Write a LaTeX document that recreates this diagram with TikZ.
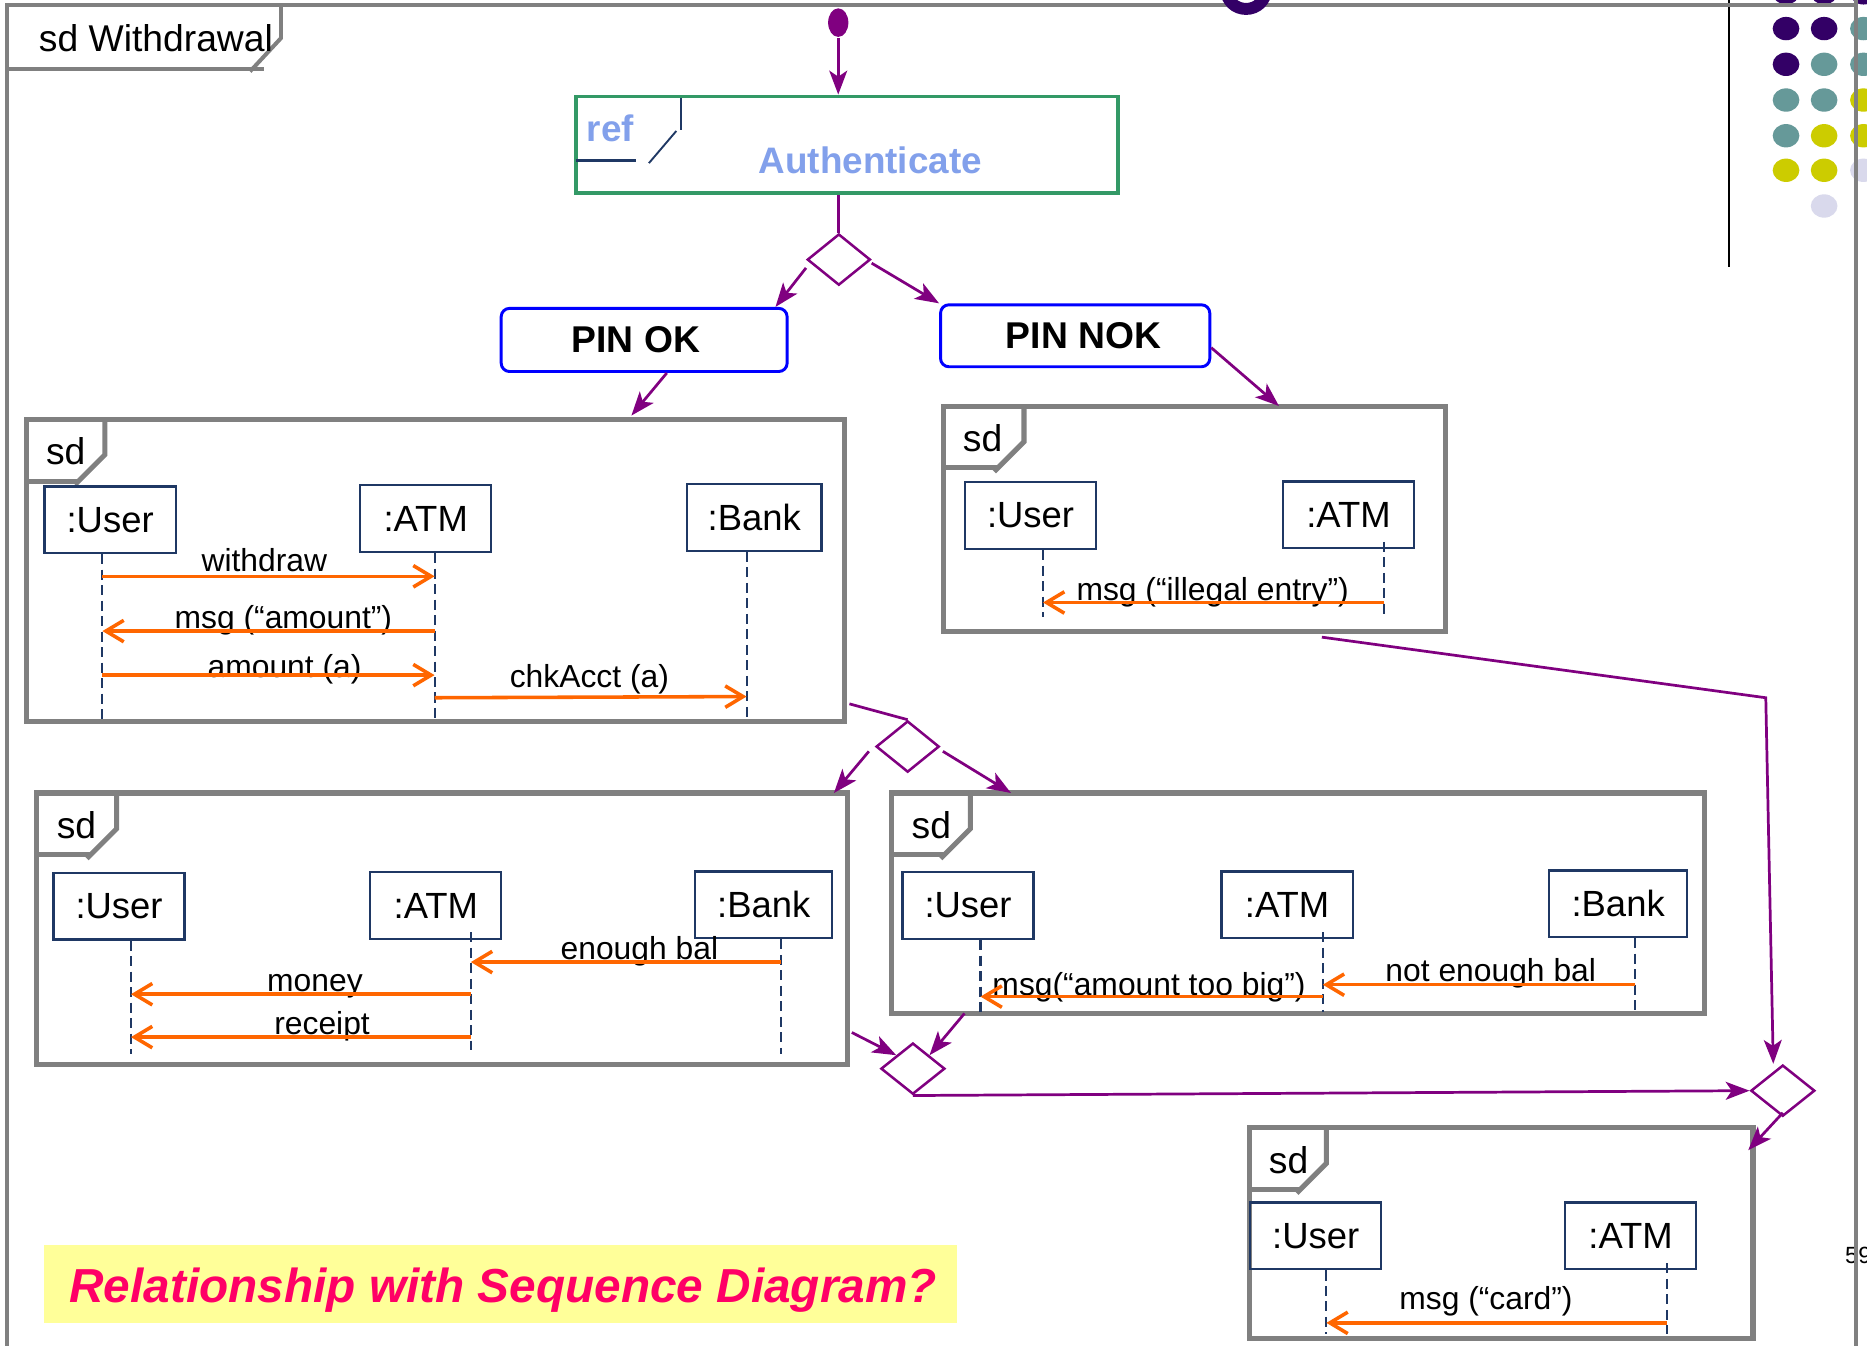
\documentclass[tikz,border=0pt]{standalone}
\usepackage{fontspec}
\setmainfont{Liberation Sans}
\usepackage{xcolor}
\usepackage{tikz}
\usetikzlibrary{shapes.geometric,arrows.meta}

\definecolor{framegray}{RGB}{128,128,128}
\definecolor{flowpurple}{RGB}{128,0,128}
\definecolor{msgorange}{RGB}{255,102,0}
\definecolor{lifenavy}{RGB}{31,56,100}
\definecolor{refgreen}{RGB}{51,153,102}
\definecolor{refblue}{RGB}{130,160,235}
\definecolor{notepink}{RGB}{255,0,102}
\definecolor{noteyellow}{RGB}{255,255,153}
\definecolor{dotP}{RGB}{51,0,102}
\definecolor{dotT}{RGB}{102,153,153}
\definecolor{dotY}{RGB}{204,204,0}
\definecolor{dotL}{RGB}{217,217,236}

% sd tab: top-left x, top-left y, tab width, label name
\newcommand{\sdtab}[4]{%
  \draw[tabline] (#1+#3,#2) -- (#1+#3,#2+30) -- (#1+#3-25,#2+55);
  \draw[tabline] (#1,#2+52) -- (#1+#3-22,#2+52);
  \node[tabtext, anchor=west] (#4) at (#1+16,#2+27) {sd};
}

\begin{document}
\begin{tikzpicture}[x=0.01cm, y=-0.01cm,
  sdframe/.style={draw=framegray, line width=1.2pt, anchor=north west, inner sep=0pt, outer sep=0pt},
  tabline/.style={framegray, line width=1.2pt},
  tabtext/.style={inner sep=0pt, font=\fontsize{8.9}{10}\selectfont},
  obj/.style={draw=lifenavy, line width=0.55pt, minimum width=1.1cm, minimum height=0.56cm, inner sep=0pt, font=\fontsize{8.7}{10}\selectfont},
  life/.style={lifenavy, line width=0.5pt, dash pattern=on 2.4pt off 1.3pt},
  msg/.style={msgorange, line width=0.85pt, -{Straight Barb[length=1.5mm, width=1.8mm]}},
  lbl/.style={inner sep=0pt, anchor=base, font=\fontsize{7.6}{9}\selectfont},
  flow/.style={flowpurple, line width=0.65pt, -{Stealth[length=2mm, width=1.5mm, inset=0.5mm]}},
  flowline/.style={flowpurple, line width=0.65pt},
  branch/.style={diamond, draw=flowpurple, line width=0.6pt, minimum width=0.53cm, minimum height=0.43cm, inner sep=0pt},
  guard/.style={draw=blue, line width=0.7pt, rounded corners=0.07cm, inner sep=0pt, font=\bfseries\fontsize{8.9}{10}\selectfont}]
  \useasboundingbox (0,0) rectangle (1568,1130);
  \clip (0,0) rectangle (1568,1130);
  \fill[white] (0,0) rectangle (1568,1130);

  % slide decoration
  \draw[black, line width=0.45pt] (1452,0) -- (1452,224);
  \fill[dotP] (1500,-6) ellipse [x radius=0.112cm, y radius=0.098cm];
  \fill[dotP] (1532,-6) ellipse [x radius=0.112cm, y radius=0.098cm];
  \fill[dotP] (1565,-6) ellipse [x radius=0.112cm, y radius=0.098cm];
  \fill[dotP] (1500,24) ellipse [x radius=0.112cm, y radius=0.098cm];
  \fill[dotP] (1532,24) ellipse [x radius=0.112cm, y radius=0.098cm];
  \fill[dotT] (1565,24) ellipse [x radius=0.112cm, y radius=0.098cm];
  \fill[dotP] (1500,54) ellipse [x radius=0.112cm, y radius=0.098cm];
  \fill[dotT] (1532,54) ellipse [x radius=0.112cm, y radius=0.098cm];
  \fill[dotT] (1565,54) ellipse [x radius=0.112cm, y radius=0.098cm];
  \fill[dotT] (1500,84) ellipse [x radius=0.112cm, y radius=0.098cm];
  \fill[dotT] (1532,84) ellipse [x radius=0.112cm, y radius=0.098cm];
  \fill[dotY] (1565,84) ellipse [x radius=0.112cm, y radius=0.098cm];
  \fill[dotT] (1500,114) ellipse [x radius=0.112cm, y radius=0.098cm];
  \fill[dotY] (1532,114) ellipse [x radius=0.112cm, y radius=0.098cm];
  \fill[dotY] (1565,114) ellipse [x radius=0.112cm, y radius=0.098cm];
  \fill[dotY] (1500,143) ellipse [x radius=0.112cm, y radius=0.098cm];
  \fill[dotY] (1532,143) ellipse [x radius=0.112cm, y radius=0.098cm];
  \fill[dotL] (1565,143) ellipse [x radius=0.112cm, y radius=0.098cm];
  \fill[dotL] (1532,173) ellipse [x radius=0.112cm, y radius=0.098cm];
  \node[anchor=base west, inner sep=0pt, font=\fontsize{5.6}{7}\selectfont] (pagenum) at (1549,1061) {59};

  % outer frame
  \draw[framegray, line width=0.95pt] (6,1140) -- (6,4) -- (1559,4);
  \draw[framegray, line width=0.95pt] (1559,-2) -- (1559,1140);
  \draw[dotP, line width=0.1cm] (1046.5,-8) ellipse [x radius=0.165cm, y radius=0.155cm];
  \draw[tabline, line width=0.95pt] (236,4) -- (236,32) -- (210,60);
  \draw[tabline, line width=0.95pt] (6,58) -- (222,58);
  \node[tabtext, anchor=west] (title) at (32,32) {sd Withdrawal};

  % start and ref
  \node[ellipse, fill=flowpurple, minimum width=0.17cm, minimum height=0.24cm, inner sep=0pt] (init) at (704,19) {};
  \node[draw=refgreen, line width=0.9pt, minimum width=4.55cm, minimum height=0.81cm, inner sep=0pt] (auth) at (711.5,121.5) {};
  \draw[lifenavy, line width=0.45pt] (572,82) -- (572,109);
  \draw[lifenavy, line width=0.45pt] (568,110) -- (545,137);
  \draw[lifenavy, line width=0.6pt] (484,135) -- (534,135);
  \node[anchor=base, inner sep=0pt, text=refblue, font=\bfseries\fontsize{8.8}{10}\selectfont] (reftag) at (512.5,119) {ref};
  \node[anchor=base, inner sep=0pt, text=refblue, font=\bfseries\fontsize{8.8}{10}\selectfont] (authname) at (731,146) {Authenticate};

  \node[branch] (d1) at (704.5,218) {};
  \node[guard, minimum width=2.4cm, minimum height=0.53cm] (pinok) at (541,285.5) {\hspace*{-0.14cm}PIN OK};
  \node[guard, minimum width=2.26cm, minimum height=0.52cm] (pinnok) at (903,282) {\hspace*{0.14cm}PIN NOK};

  % sd frames
  \node[sdframe, minimum width=6.87cm, minimum height=2.54cm] (sd1) at (22,352) {};
  \node[sdframe, minimum width=4.22cm, minimum height=1.89cm] (sd2) at (792,341) {};
  \node[sdframe, minimum width=6.80cm, minimum height=2.28cm] (sd3) at (31,666) {};
  \node[sdframe, minimum width=6.82cm, minimum height=1.85cm] (sd4) at (749,666) {};
  \node[sdframe, minimum width=4.23cm, minimum height=1.77cm] (sd5) at (1049,947) {};
  \sdtab{22}{352}{66}{sdA}
  \sdtab{792}{341}{68}{sdB}
  \sdtab{31}{666}{67}{sdC}
  \sdtab{749}{666}{66}{sdD}
  \sdtab{1049}{947}{65}{sdE}

  % sd1: PIN OK
  \node[obj] (user1) at (92.5,436.5) {:User};
  \node[obj] (atm1) at (357.5,435.5) {:ATM};
  \node[obj, minimum width=1.13cm] (bank1) at (633.5,434.5) {:Bank};
  \coordinate (u1) at (86,604);
  \coordinate (a1) at (365,604);
  \coordinate (b1) at (627,604);
  \draw[life] (u1 |- user1.south) -- (u1);
  \draw[life] (a1 |- atm1.south) -- (a1);
  \draw[life] (b1 |- bank1.south) -- (b1);
  \node[lbl] (m1) at (222,480) {withdraw};
  \node[lbl] (m2) at (238,528) {msg (“amount”)};
  \node[lbl] (m3) at (239,569) {amount (a)};
  \node[lbl] (m4) at (495,577) {chkAcct (a)};
  \draw[msg] (u1 |- 0,484) -- (a1 |- 0,484);
  \draw[msg] (a1 |- 0,530) -- (u1 |- 0,530);
  \draw[msg] (u1 |- 0,567) -- (a1 |- 0,567);
  \draw[msg] (a1 |- 0,586) -- (b1 |- 0,585);

  % sd2: PIN NOK
  \node[obj] (user2) at (865.5,433) {:User};
  \node[obj] (atm2) at (1132.5,432.5) {:ATM};
  \coordinate (u2) at (876,518);
  \coordinate (a2) at (1162,518);
  \draw[life] (u2 |- user2.south) -- (u2);
  \draw[life] (a2 |- 0,455) -- (a2);
  \node[lbl] (m5) at (1018.5,504) {msg (“illegal entry”)};
  \draw[msg] (a2 |- 0,506) -- (u2 |- 0,506);

  % sd3: enough balance
  \node[obj] (user3) at (100,761) {:User};
  \node[obj] (atm3) at (366,760.5) {:ATM};
  \node[obj, minimum width=1.15cm] (bank3) at (641.5,760) {:Bank};
  \coordinate (u3) at (110,885);
  \coordinate (a3) at (395.5,882);
  \coordinate (b3) at (656,885);
  \draw[life] (u3 |- user3.south) -- (u3);
  \draw[life] (a3 |- 0,783) -- (a3);
  \draw[life] (b3 |- bank3.south) -- (b3);
  \node[lbl] (m6) at (537,805.6) {enough bal};
  \node[lbl] (m7) at (264.5,833) {money};
  \node[lbl] (m8) at (270.5,868.5) {receipt};
  \draw[msg] (b3 |- 0,808) -- (a3 |- 0,808);
  \draw[msg] (a3 |- 0,835) -- (u3 |- 0,835);
  \draw[msg] (a3 |- 0,871) -- (u3 |- 0,871);

  % sd4: not enough balance
  \node[obj] (user4) at (813,760.5) {:User};
  \node[obj] (atm4) at (1081,760) {:ATM};
  \node[obj, minimum width=1.16cm] (bank4) at (1359,759) {:Bank};
  \coordinate (u4) at (823.5,850);
  \coordinate (a4) at (1111,850);
  \coordinate (b4) at (1373,850);
  \draw[life] (u4 |- user4.south) -- (u4);
  \draw[life] (a4 |- 0,783) -- (a4);
  \draw[life] (b4 |- bank4.south) -- (b4);
  \node[lbl] (m9) at (1252,824.5) {not enough bal};
  \node[lbl] (m10) at (965,836) {msg(“amount too big”)};
  \draw[msg] (b4 |- 0,827) -- (a4 |- 0,827);
  \draw[msg] (a4 |- 0,837) -- (u4 |- 0,837);

  % sd5: card
  \node[obj] (user5) at (1105,1038) {:User};
  \node[obj] (atm5) at (1369.5,1038) {:ATM};
  \coordinate (u5) at (1114,1120);
  \coordinate (a5) at (1400,1120);
  \draw[life] (u5 |- user5.south) -- (u5);
  \draw[life] (a5 |- 0,1061) -- (a5);
  \node[lbl] (m11) at (1248,1100) {msg (“card”)};
  \draw[msg] (a5 |- 0,1111) -- (u5 |- 0,1111);

  % branches
  \node[branch] (d2) at (762.3,627) {};
  \node[branch, minimum width=0.537cm] (d3) at (766.7,897.5) {};
  \node[branch, minimum width=0.537cm] (d4) at (1497.3,916) {};
  \coordinate (turn) at (1483,586);

  % flow
  \draw[flow] (init) -- (init |- auth.north);
  \draw[flowline] (d1.north |- auth.south) -- (d1.north);
  \draw[flow] ([yshift=-0.07cm]d1.west) -- ([xshift=-0.11cm]pinok.north east);
  \draw[flow] ([yshift=-0.03cm]d1.east) -- (pinnok.north west);
  \draw[flow] ([xshift=0.19cm]pinok.south) -- ([xshift=5.08cm,yshift=0.03cm]sd1.north west);
  \draw[flow] ([yshift=-0.1cm]pinnok.east) -- ([xshift=2.82cm]sd2.north west);
  \draw[flowline] ([xshift=0.04cm,yshift=0.15cm]sd1.south east) -- (d2.north);
  \draw[flow] ([xshift=-0.05cm,yshift=-0.04cm]d2.west) -- ([xshift=-0.11cm]sd3.north east);
  \draw[flow] ([xshift=0.02cm,yshift=-0.04cm]d2.east) -- ([xshift=1cm]sd4.north west);
  \draw[flow] ([xshift=0.04cm,yshift=0.27cm]sd3.south east) -- (d3.north west);
  \draw[flow] ([xshift=0.61cm]sd4.south west) -- (d3.north east);
  \draw[flow] (d3.south) -- (d4.west);
  \draw[flow] ([xshift=-1.04cm,yshift=-0.05cm]sd2.south east) -- (turn) -- ([xshift=-0.08cm]d4.north);
  \draw[flow] ([yshift=0.04cm]d4.south) -- ([xshift=-0.04cm,yshift=-0.19cm]sd5.north east);

  % question
  \node[fill=noteyellow, minimum width=7.66cm, minimum height=0.65cm, inner sep=0pt] (note) at (420.5,1078.5) {};
  \node[anchor=base, inner sep=0pt, text=notepink, font=\bfseries\itshape\fontsize{11.4}{13}\selectfont] (notetext) at (422.5,1093.6) {Relationship with Sequence Diagram?};
\end{tikzpicture}
\end{document}
